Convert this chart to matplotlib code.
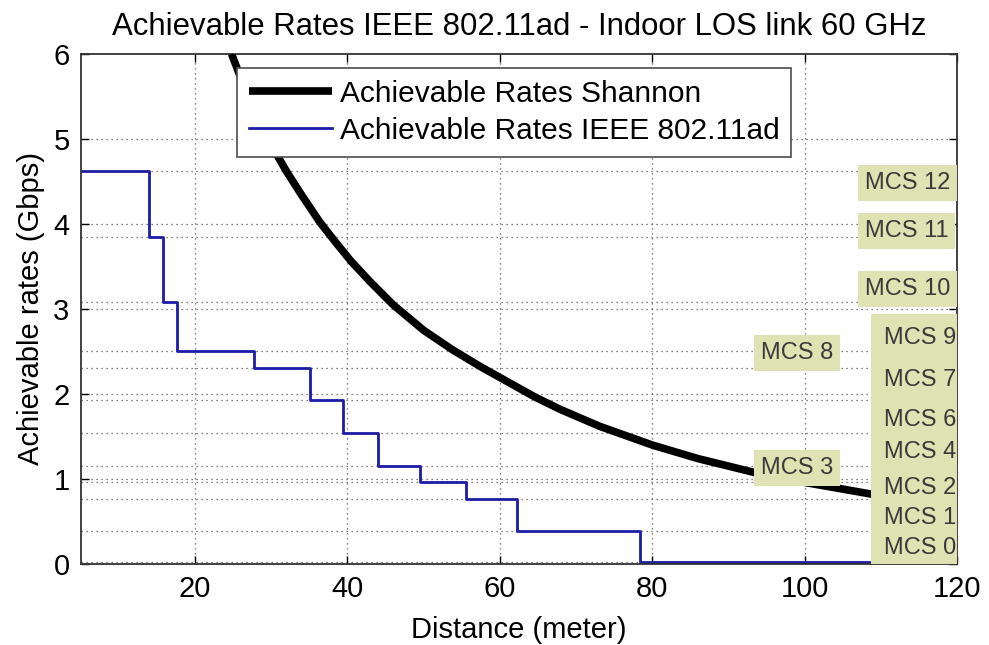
import matplotlib
matplotlib.use("Agg")
from matplotlib import pyplot as plt

plt.rcParams['font.family'] = ['Liberation Sans', 'DejaVu Sans']

# Shannon curve (distance in m, rate in Gbps)
shannon_d = [24.8, 26.0, 28.0, 30.0, 32.0, 34.0, 36.4, 38.5, 40.5, 43.0, 46.0, 50.0, 53.8,
             57.5, 61.3, 64.5, 67.9, 73.1, 80.0, 86.0, 93.7, 100.0, 108.9, 120.0]
shannon_r = [6.0, 5.72, 5.3, 4.93, 4.62, 4.34, 4.02, 3.78, 3.56, 3.32, 3.05, 2.75, 2.52,
             2.32, 2.13, 1.97, 1.82, 1.62, 1.40, 1.24, 1.07, 0.96, 0.82, 0.70]

# IEEE 802.11ad step curve: switch distances and MCS rates
step_edges = [5, 13.96, 15.8, 17.6, 27.7, 35.1, 39.4, 44.0, 49.5, 55.6, 62.3, 78.4, 120]
step_rates = [4.62, 3.85, 3.08, 2.5025, 2.31, 1.925, 1.54, 1.155, 0.9625, 0.77, 0.385, 0.0275]

# MCS rate levels drawn as dotted lines
mcs_levels = [0.0275, 0.385, 0.77, 0.9625, 1.155, 1.54, 1.925, 2.31, 2.5025, 3.08, 3.85, 4.62]

# MCS labels: text, x, y (the right-hand group sits in one joined box)
mcs_names = ['MCS 12', 'MCS 11', 'MCS 10', 'MCS 8', 'MCS 3']
mcs_x = [107.9, 107.9, 107.9, 94.3, 94.3]
mcs_y = [4.48, 3.92, 3.24, 2.48, 1.13]
group_names = ['MCS 9', 'MCS 7', 'MCS 6', 'MCS 4', 'MCS 2', 'MCS 1', 'MCS 0']
group_y = [2.66, 2.16, 1.69, 1.32, 0.89, 0.54, 0.19]
group_x = 110.4

fig = plt.figure(figsize=(9.89, 6.45), dpi=100)
ax = fig.add_axes([0.0816, 0.1256, 0.8860, 0.7907])

grid_style = dict(color='0.35', ls=(0, (1, 3)), lw=0.9, zorder=0)
for lv in mcs_levels:
    ax.axhline(lv, **grid_style)
for yt in range(1, 6):
    ax.axhline(yt, **grid_style)
for xt in range(20, 120, 20):
    ax.axvline(xt, **grid_style)

sh, = ax.plot(shannon_d, shannon_r, color='k', lw=5.5, solid_capstyle='butt',
              solid_joinstyle='round', label='Achievable Rates Shannon', zorder=3)
bl, = ax.step(step_edges, step_rates + [step_rates[-1]], where='post', color='#1c1ca8', lw=2,
              label='Achievable Rates IEEE 802.11ad', zorder=2)

box_fc = '#dfe2b2'
for name, x, y in zip(mcs_names, mcs_x, mcs_y):
    ax.text(x, y, name, fontsize=17, ha='left', va='center', color='#3a3a3a', zorder=5,
            clip_on=True, bbox=dict(boxstyle='square,pad=0.3', fc=box_fc, ec='none'))
for name, y in zip(group_names, group_y):
    ax.text(group_x, y, name, fontsize=17, ha='left', va='center', color='#3a3a3a', zorder=5,
            clip_on=True, bbox=dict(boxstyle='square,pad=0.55', fc=box_fc, ec='none'))

ax.set_xlim(5, 120)
ax.set_ylim(0, 6)
ax.set_xticks([20, 40, 60, 80, 100, 120])
ax.set_yticks([0, 1, 2, 3, 4, 5, 6])
ax.tick_params(direction='in', top=True, right=True, labelsize=21, length=6, width=1, pad=8)
for s in ax.spines.values():
    s.set_linewidth(1.3)
    s.set_color('0.2')

ax.set_title('Achievable Rates IEEE 802.11ad - Indoor LOS link 60 GHz', fontsize=22.4, pad=14)
ax.set_xlabel('Distance (meter)', fontsize=21, labelpad=9)
ax.set_ylabel('Achievable rates (Gbps)', fontsize=21, labelpad=6)

leg = ax.legend(handles=[sh, bl], loc='upper left', bbox_to_anchor=(0.178, 0.973), fontsize=21.5,
                frameon=True, fancybox=False, edgecolor='0.3', framealpha=1,
                handlelength=2.8, handletextpad=0.25, borderpad=0.4, labelspacing=0.3,
                borderaxespad=0)
leg.get_frame().set_linewidth(1.2)
leg.set_zorder(6)

fig.savefig('out.png', dpi=100)
